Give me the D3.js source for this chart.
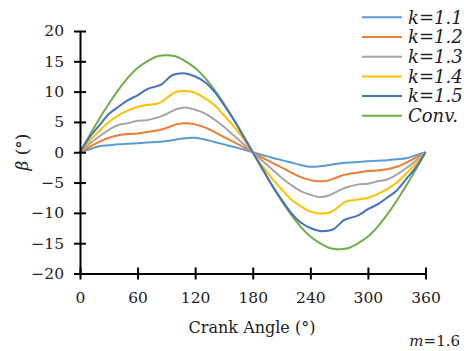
<!DOCTYPE html>
<html><head><meta charset="utf-8">
<script src="https://cdn.jsdelivr.net/npm/d3@7"></script>
<style>
html,body{margin:0;padding:0;background:#fff;}
svg text{font-family:"DejaVu Serif",serif;fill:#222;}
</style></head>
<body>
<svg id="chart" width="464" height="351"></svg>
<script>
const angles = [0,10,20,30,40,50,60,70,80,85,90,95,100,110,120,130,140,150,160,170,180,
  190,200,210,220,230,240,250,260,265,270,275,280,290,300,310,320,330,340,350,360];
const k11 = [0,0.5,1.0,1.15,1.3,1.4,1.5,1.6,1.7,1.75,1.85,1.95,2.1,2.3,2.4,2.1,1.7,1.3,0.9,0.45,0,
  -0.45,-0.9,-1.3,-1.7,-2.1,-2.4,-2.3,-2.1,-1.95,-1.85,-1.75,-1.7,-1.6,-1.5,-1.4,-1.3,-1.15,-1.0,-0.5,0];
const k12 = [0,0.9,1.7,2.4,2.8,3.0,3.1,3.35,3.6,3.75,4.0,4.3,4.6,4.8,4.6,4.1,3.35,2.5,1.7,0.9,0,
  -0.9,-1.7,-2.5,-3.35,-4.1,-4.6,-4.8,-4.6,-4.3,-4.0,-3.75,-3.6,-3.35,-3.1,-3.0,-2.8,-2.4,-1.7,-0.9,0];
const k13 = [0,1.4,2.6,3.7,4.5,4.8,5.2,5.3,5.7,5.95,6.3,6.7,7.1,7.4,7.0,6.4,5.4,4.2,2.8,1.4,0,
  -1.4,-2.8,-4.2,-5.4,-6.4,-7.0,-7.4,-7.1,-6.7,-6.3,-5.95,-5.7,-5.3,-5.2,-4.8,-4.5,-3.7,-2.6,-1.4,0];
const k14 = [0,1.9,3.5,5.0,6.1,6.9,7.5,7.8,8.0,8.3,8.9,9.5,9.95,10.1,9.8,8.9,7.8,6.1,4.3,2.3,0,
  -2.3,-4.3,-6.1,-7.8,-8.9,-9.8,-10.1,-9.95,-9.5,-8.9,-8.3,-8.0,-7.8,-7.5,-6.9,-6.1,-5.0,-3.5,-1.9,0];
const k15 = [0,2.5,4.4,6.3,7.5,8.6,9.4,10.4,10.9,11.2,11.9,12.6,12.9,13.0,12.5,11.6,10.0,7.8,5.4,2.7,0,
  -2.7,-5.4,-7.8,-10.0,-11.6,-12.5,-13.0,-12.9,-12.6,-11.9,-11.2,-10.9,-10.4,-9.4,-8.6,-7.5,-6.3,-4.4,-2.5,0];
const conv = [0,2.8,5.5,8.0,10.3,12.3,13.9,15.0,15.8,15.95,16.0,15.95,15.8,15.0,13.9,12.3,10.3,8.0,5.5,2.8,0,
  -2.8,-5.5,-8.0,-10.3,-12.3,-13.9,-15.0,-15.8,-15.95,-16.0,-15.95,-15.8,-15.0,-13.9,-12.3,-10.3,-8.0,-5.5,-2.8,0];
const seriesNames = ["k=1.1","k=1.2","k=1.3","k=1.4","k=1.5","Conv."];
const seriesValues = [k11,k12,k13,k14,k15,conv];
const colors = ["#5B9BD5","#ED7D31","#A5A5A5","#FFC000","#4472C4","#70AD47"];
const xTicks = [0,60,120,180,240,300,360];
const yTicks = [-20,-15,-10,-5,0,5,10,15,20];

const svg = d3.select("#chart");
const x = d3.scaleLinear().domain([0,360]).range([80,425.5]);
const y = d3.scaleLinear().domain([-20,20]).range([273.5,31]);

// series
const line = d3.line().x((d,i)=>x(angles[i])).y(d=>y(d)).curve(d3.curveCatmullRom.alpha(0.5));
const order = [5,0,1,2,3,4];
order.forEach(s=>{
  svg.append("path").attr("d", line(seriesValues[s]))
    .attr("fill","none").attr("stroke",colors[s]).attr("stroke-width",2)
    .attr("stroke-linejoin","round");
});

// axes
const yAxis = svg.append("g").attr("transform",`translate(${x(0)},0)`)
  .call(d3.axisLeft(y).tickValues(yTicks).tickSizeInner(6).tickSizeOuter(0).tickPadding(10));
const xAxis = svg.append("g").attr("transform",`translate(0,${y(-20)})`)
  .call(d3.axisBottom(x).tickValues(xTicks).tickSizeInner(6).tickSizeOuter(0).tickPadding(12));
[yAxis,xAxis].forEach(g=>{
  g.select(".domain").attr("stroke","#000").attr("stroke-width",2);
  g.selectAll(".tick line").attr("stroke","#000").attr("stroke-width",2);
  g.selectAll(".tick text").attr("font-family","DejaVu Serif").attr("font-size",15.5).attr("fill","#222");
});
yAxis.selectAll(".tick line").attr("x1",6).attr("x2",-6);
xAxis.selectAll(".tick line").attr("y1",-6).attr("y2",6);
xAxis.selectAll(".tick text").attr("dy","0.71em");

// axis titles
svg.append("text").attr("x",252).attr("y",333).attr("text-anchor","middle")
  .attr("font-size",16).text("Crank Angle (°)");
const yt = svg.append("text").attr("transform","translate(28,152) rotate(-90)")
  .attr("text-anchor","middle").attr("font-size",17);
yt.append("tspan").attr("font-style","italic").text("β");
yt.append("tspan").text(" (°)");

// m label
const mt = svg.append("text").attr("x",460).attr("y",346).attr("text-anchor","end").attr("font-size",15);
mt.append("tspan").attr("font-style","italic").text("m");
mt.append("tspan").text("=1.6");

// legend
const leg = svg.append("g");
seriesNames.forEach((n,i)=>{
  const ly = 17.3 + i*19.7;
  leg.append("line").attr("x1",362).attr("x2",402).attr("y1",ly).attr("y2",ly)
    .attr("stroke",colors[i]).attr("stroke-width",2);
  leg.append("text").attr("x",408).attr("y",ly).attr("dy","0.35em")
    .attr("font-family","Liberation Serif")
    .attr("font-size",18).attr("font-style","italic").text(n);
});
</script>
</body></html>
